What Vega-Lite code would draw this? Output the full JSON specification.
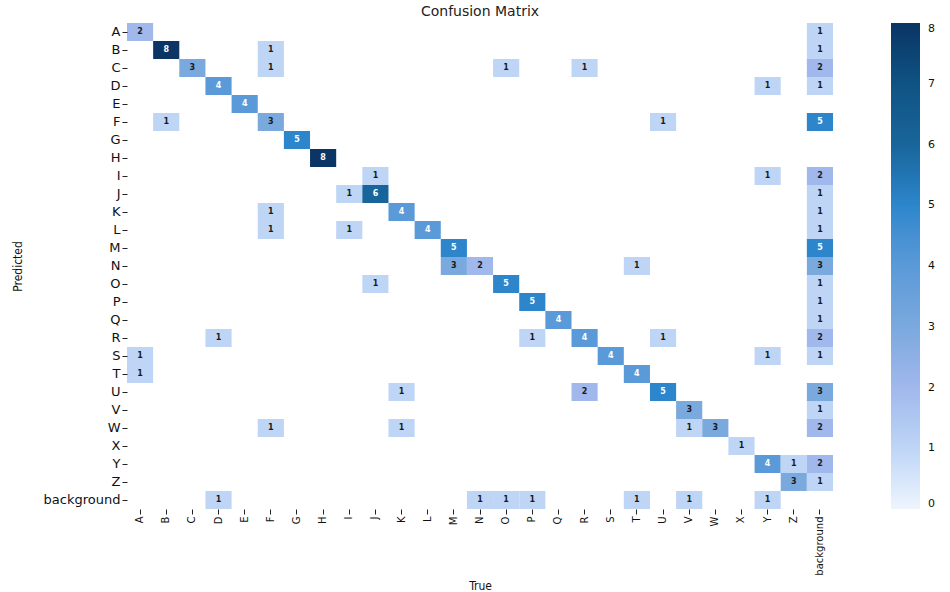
{
  "$schema": "https://vega.github.io/schema/vega-lite/v6.json",
  "autosize": {"type": "none"},
  "width": 706,
  "height": 486,
  "padding": {"left": 127, "top": 23, "right": 117, "bottom": 83},
  "background": "white",
  "title": {"text": "Confusion Matrix", "fontSize": 14, "font": "DejaVu Sans", "fontWeight": "normal", "color": "#222", "offset": 4},
  "config": {
    "view": {"stroke": null},
    "axis": {"domain": false, "grid": false, "tickColor": "#222", "tickSize": 5, "tickWidth": 1, "labelColor": "#111", "labelFont": "DejaVu Sans", "titleFont": "Liberation Sans Narrow, DejaVu Sans Condensed, sans-serif", "titleFontWeight": "normal", "titleFontSize": 12, "titleColor": "#111", "labelPadding": 2}
  },
  "data": {"values": [
    {"p": "A", "t": "A", "v": 2}, {"p": "A", "t": "background", "v": 1},
    {"p": "B", "t": "B", "v": 8}, {"p": "B", "t": "F", "v": 1}, {"p": "B", "t": "background", "v": 1},
    {"p": "C", "t": "C", "v": 3}, {"p": "C", "t": "F", "v": 1}, {"p": "C", "t": "O", "v": 1}, {"p": "C", "t": "R", "v": 1}, {"p": "C", "t": "background", "v": 2},
    {"p": "D", "t": "D", "v": 4}, {"p": "D", "t": "Y", "v": 1}, {"p": "D", "t": "background", "v": 1},
    {"p": "E", "t": "E", "v": 4},
    {"p": "F", "t": "B", "v": 1}, {"p": "F", "t": "F", "v": 3}, {"p": "F", "t": "U", "v": 1}, {"p": "F", "t": "background", "v": 5},
    {"p": "G", "t": "G", "v": 5},
    {"p": "H", "t": "H", "v": 8},
    {"p": "I", "t": "J", "v": 1}, {"p": "I", "t": "Y", "v": 1}, {"p": "I", "t": "background", "v": 2},
    {"p": "J", "t": "I", "v": 1}, {"p": "J", "t": "J", "v": 6}, {"p": "J", "t": "background", "v": 1},
    {"p": "K", "t": "F", "v": 1}, {"p": "K", "t": "K", "v": 4}, {"p": "K", "t": "background", "v": 1},
    {"p": "L", "t": "F", "v": 1}, {"p": "L", "t": "I", "v": 1}, {"p": "L", "t": "L", "v": 4}, {"p": "L", "t": "background", "v": 1},
    {"p": "M", "t": "M", "v": 5}, {"p": "M", "t": "background", "v": 5},
    {"p": "N", "t": "M", "v": 3}, {"p": "N", "t": "N", "v": 2}, {"p": "N", "t": "T", "v": 1}, {"p": "N", "t": "background", "v": 3},
    {"p": "O", "t": "J", "v": 1}, {"p": "O", "t": "O", "v": 5}, {"p": "O", "t": "background", "v": 1},
    {"p": "P", "t": "P", "v": 5}, {"p": "P", "t": "background", "v": 1},
    {"p": "Q", "t": "Q", "v": 4}, {"p": "Q", "t": "background", "v": 1},
    {"p": "R", "t": "D", "v": 1}, {"p": "R", "t": "P", "v": 1}, {"p": "R", "t": "R", "v": 4}, {"p": "R", "t": "U", "v": 1}, {"p": "R", "t": "background", "v": 2},
    {"p": "S", "t": "A", "v": 1}, {"p": "S", "t": "S", "v": 4}, {"p": "S", "t": "Y", "v": 1}, {"p": "S", "t": "background", "v": 1},
    {"p": "T", "t": "A", "v": 1}, {"p": "T", "t": "T", "v": 4},
    {"p": "U", "t": "K", "v": 1}, {"p": "U", "t": "R", "v": 2}, {"p": "U", "t": "U", "v": 5}, {"p": "U", "t": "background", "v": 3},
    {"p": "V", "t": "V", "v": 3}, {"p": "V", "t": "background", "v": 1},
    {"p": "W", "t": "F", "v": 1}, {"p": "W", "t": "K", "v": 1}, {"p": "W", "t": "V", "v": 1}, {"p": "W", "t": "W", "v": 3}, {"p": "W", "t": "background", "v": 2},
    {"p": "X", "t": "X", "v": 1},
    {"p": "Y", "t": "Y", "v": 4}, {"p": "Y", "t": "Z", "v": 1}, {"p": "Y", "t": "background", "v": 2},
    {"p": "Z", "t": "Z", "v": 3}, {"p": "Z", "t": "background", "v": 1},
    {"p": "background", "t": "D", "v": 1}, {"p": "background", "t": "N", "v": 1}, {"p": "background", "t": "O", "v": 1}, {"p": "background", "t": "P", "v": 1}, {"p": "background", "t": "T", "v": 1}, {"p": "background", "t": "V", "v": 1}, {"p": "background", "t": "Y", "v": 1}
  ]},
  "encoding": {
    "x": {"field": "t", "type": "nominal", "title": "True",
      "scale": {"domain": ["A","B","C","D","E","F","G","H","I","J","K","L","M","N","O","P","Q","R","S","T","U","V","W","X","Y","Z","background"], "paddingInner": 0, "paddingOuter": 0},
      "axis": {"labelAngle": -90, "labelFontSize": 10, "titleX": 353, "titleY": 76, "titleBaseline": "middle", "titleAlign": "center"}},
    "y": {"field": "p", "type": "nominal", "title": "Predicted",
      "scale": {"domain": ["A","B","C","D","E","F","G","H","I","J","K","L","M","N","O","P","Q","R","S","T","U","V","W","X","Y","Z","background"], "paddingInner": 0, "paddingOuter": 0},
      "axis": {"labelFontSize": 13, "titleX": -110, "titleY": 243, "titleBaseline": "middle", "titleAlign": "center", "titleAngle": -90}}
  },
  "layer": [
    {"mark": {"type": "rect"},
     "encoding": {"color": {"field": "v", "type": "quantitative",
        "scale": {"domain": [0,1,2,3,4,5,6,7,8], "range": ["#eef5fe","#bed5f6","#a0b8ec","#7aa9de","#5a9ad8","#2d86cc","#18659b","#0f5383","#0a3564"]},
        "legend": {"title": null, "orient": "right", "offset": 58, "padding": 0, "gradientLength": 486, "gradientThickness": 29, "gradientStrokeWidth": 0, "labelFontSize": 11, "labelFont": "DejaVu Sans", "labelColor": "#111", "labelOffset": 8, "labelBaseline": "middle", "values": [0,1,2,3,4,5,6,7,8], "tickCount": 8}}}},
    {"mark": {"type": "text", "fontSize": 8, "fontWeight": "bold", "font": "DejaVu Sans"},
     "encoding": {"text": {"field": "v", "type": "quantitative"},
       "color": {"condition": {"test": "datum.v >= 4", "value": "white"}, "value": "#1a1a1a"}}}
  ]
}
